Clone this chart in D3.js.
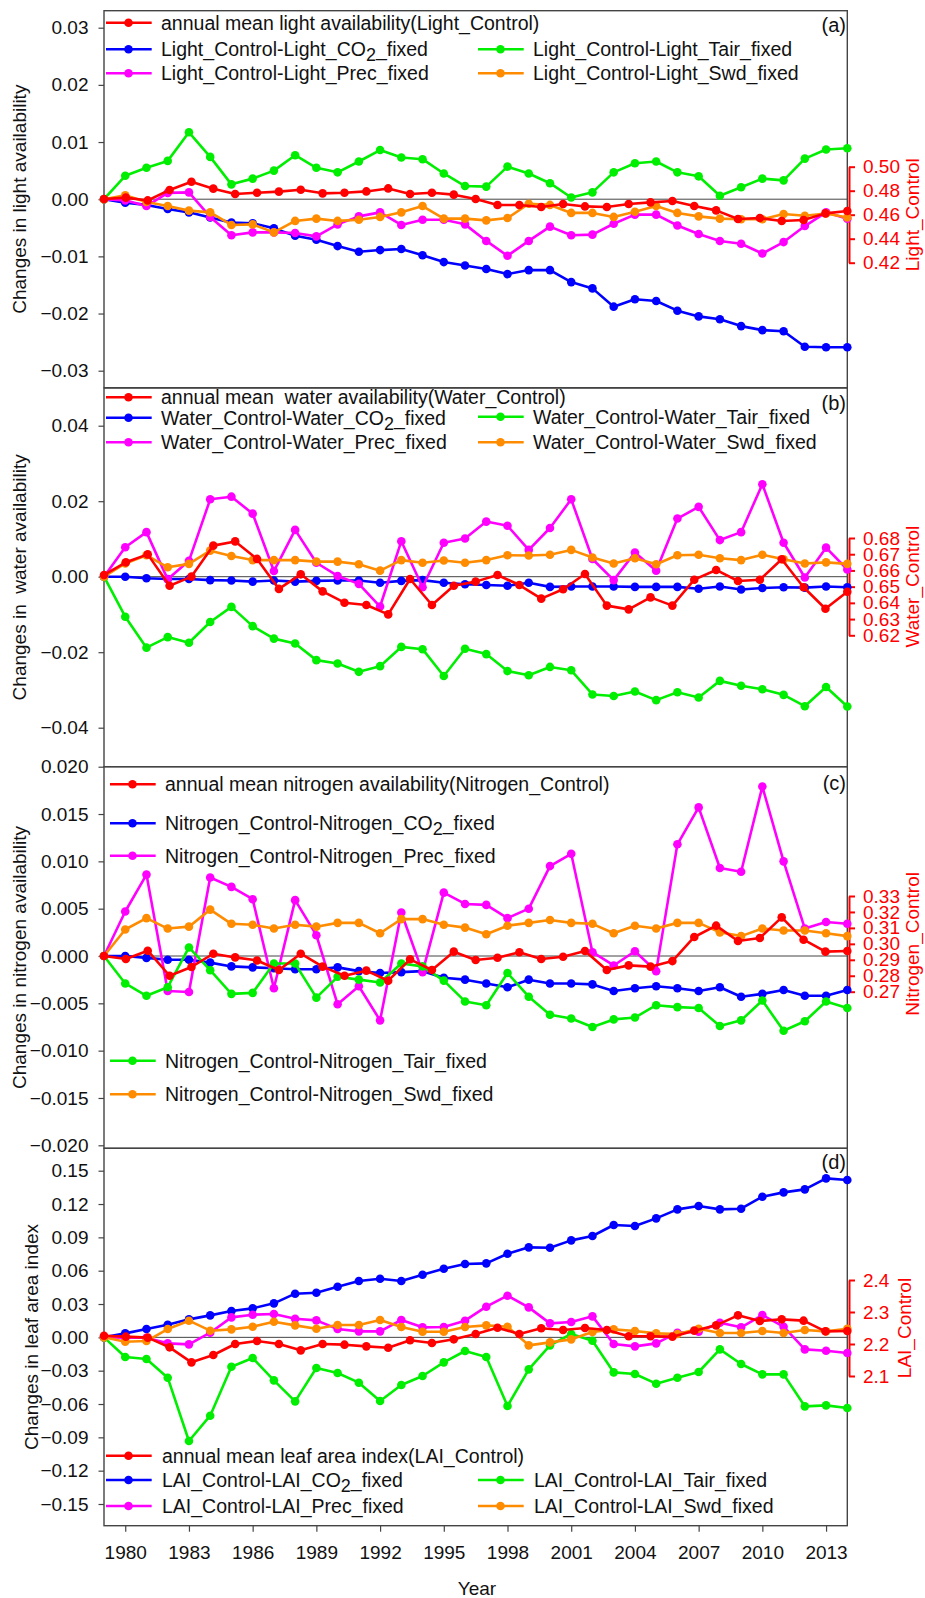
<!DOCTYPE html>
<html>
<head>
<meta charset="utf-8">
<script src="https://cdn.jsdelivr.net/npm/d3@7"></script>
<style>
  body { margin: 0; background: #fff; }
  svg { display: block; font-family: "Liberation Sans", Arial, sans-serif; }
</style>
</head>
<body>
<svg id="chart" width="925" height="1598"></svg>
<script>
// years of the difference series, and of the control series (plotted on its own x axis)
var years = [1979,1980,1981,1982,1983,1984,1985,1986,1987,1988,1989,1990,1991,1992,1993,1994,1995,1996,
             1997,1998,1999,2000,2001,2002,2003,2004,2005,2006,2007,2008,2009,2010,2011,2012,2013,2014];
var controlYears = [1980,1981,1982,1983,1984,1985,1986,1987,1988,1989,1990,1991,1992,1993,1994,1995,1996,
                    1997,1998,1999,2000,2001,2002,2003,2004,2005,2006,2007,2008,2009,2010,2011,2012,2013,2014];
var yearTicks = [1980,1983,1986,1989,1992,1995,1998,2001,2004,2007,2010,2013];

// (a) light
var lightCO2 = [0,-0.0006,-0.0010,-0.0017,-0.0023,-0.0032,-0.0041,-0.0042,-0.0051,-0.0064,-0.0071,-0.0082,-0.0092,-0.0089,-0.0087,-0.0098,-0.0110,-0.0116,
                -0.0122,-0.0131,-0.0124,-0.0124,-0.0145,-0.0156,-0.0188,-0.0175,-0.0178,-0.0195,-0.0205,-0.0210,-0.0222,-0.0229,-0.0231,-0.0258,-0.0259,-0.0259];
var lightTair = [0,0.0041,0.0055,0.0067,0.0117,0.0074,0.0026,0.0036,0.0050,0.0077,0.0055,0.0047,0.0066,0.0086,0.0073,0.0070,0.0045,0.0023,
                 0.0022,0.0057,0.0045,0.0028,0.0003,0.0012,0.0047,0.0063,0.0066,0.0047,0.0040,0.0006,0.0021,0.0036,0.0033,0.0071,0.0087,0.0089];
var lightPrec = [0,-0.0002,-0.0012,0.0011,0.0012,-0.0031,-0.0063,-0.0058,-0.0058,-0.0059,-0.0065,-0.0044,-0.0030,-0.0023,-0.0045,-0.0036,-0.0036,-0.0044,
                 -0.0073,-0.0099,-0.0073,-0.0048,-0.0063,-0.0062,-0.0043,-0.0027,-0.0027,-0.0046,-0.0061,-0.0073,-0.0078,-0.0095,-0.0075,-0.0047,-0.0023,-0.0034];
var lightSwd = [0,0.0007,-0.0005,-0.0012,-0.0020,-0.0023,-0.0045,-0.0044,-0.0058,-0.0038,-0.0034,-0.0038,-0.0036,-0.0031,-0.0023,-0.0012,-0.0034,-0.0034,
                -0.0037,-0.0033,-0.0008,-0.0010,-0.0024,-0.0024,-0.0031,-0.0022,-0.0012,-0.0024,-0.0030,-0.0034,-0.0035,-0.0035,-0.0026,-0.0029,-0.0025,-0.0032];
var lightControl = [0.4731,0.4742,0.4719,0.4806,0.4875,0.4817,0.4772,0.4783,0.4792,0.4808,0.4778,0.4783,0.4794,0.4819,0.4772,0.4783,0.4767,0.4731,
                    0.4681,0.4681,0.4664,0.4689,0.4669,0.4664,0.4689,0.4703,0.4714,0.4672,0.4636,0.4564,0.4572,0.4547,0.4556,0.4611,0.4631];

// (b) water
var waterCO2 = [0,0,-0.0004,-0.0006,-0.0006,-0.0009,-0.0010,-0.0013,-0.0010,-0.0013,-0.0011,-0.0010,-0.0010,-0.0016,-0.0011,-0.0009,-0.0016,-0.0020,
                -0.0022,-0.0024,-0.0016,-0.0027,-0.0026,-0.0026,-0.0026,-0.0027,-0.0027,-0.0027,-0.0032,-0.0026,-0.0034,-0.0030,-0.0028,-0.0029,-0.0026,-0.0028];
var waterTair = [0,-0.0106,-0.0188,-0.0160,-0.0175,-0.0120,-0.0080,-0.0131,-0.0164,-0.0177,-0.0221,-0.0230,-0.0252,-0.0237,-0.0186,-0.0192,-0.0263,-0.0191,
                 -0.0205,-0.0250,-0.0261,-0.0239,-0.0248,-0.0312,-0.0316,-0.0304,-0.0327,-0.0306,-0.0320,-0.0276,-0.0289,-0.0298,-0.0313,-0.0343,-0.0292,-0.0344];
var waterPrec = [0,0.0078,0.0118,-0.0007,0.0042,0.0205,0.0212,0.0167,0.0015,0.0124,0.0037,0.0002,-0.0019,-0.0079,0.0094,-0.0028,0.0090,0.0101,
                 0.0146,0.0135,0.0071,0.0129,0.0205,0.0047,-0.0009,0.0064,0.0016,0.0154,0.0185,0.0097,0.0118,0.0245,0.0090,-0.0002,0.0077,0.0019];
var waterSwd = [0,0.0035,0.0057,0.0025,0.0034,0.0069,0.0055,0.0044,0.0044,0.0044,0.0040,0.0040,0.0033,0.0016,0.0044,0.0037,0.0043,0.0037,
                0.0044,0.0057,0.0056,0.0058,0.0071,0.0051,0.0035,0.0049,0.0033,0.0057,0.0058,0.0049,0.0044,0.0058,0.0046,0.0035,0.0038,0.0034];
var waterControl = [0.6572,0.6650,0.6699,0.6506,0.6562,0.6753,0.6779,0.6671,0.6486,0.6576,0.6471,0.6401,0.6387,0.6329,0.6547,0.6387,0.6506,0.6531,
                    0.6572,0.6510,0.6426,0.6484,0.6578,0.6383,0.6360,0.6434,0.6383,0.6543,0.6603,0.6535,0.6543,0.6669,0.6496,0.6364,0.6469];

// (c) nitrogen
var nitroCO2 = [0,0,-0.0002,-0.0004,-0.0004,-0.0007,-0.0011,-0.0012,-0.0013,-0.0014,-0.0014,-0.0012,-0.0016,-0.0018,-0.0017,-0.0016,-0.0023,-0.0025,
                -0.0029,-0.0033,-0.0025,-0.0029,-0.0029,-0.0030,-0.0037,-0.0034,-0.0032,-0.0034,-0.0037,-0.0033,-0.0043,-0.0040,-0.0036,-0.0042,-0.0042,-0.0036];
var nitroTair = [0,-0.0029,-0.0042,-0.0033,0.0009,-0.0015,-0.0040,-0.0039,-0.0008,-0.0008,-0.0044,-0.0022,-0.0025,-0.0028,-0.0008,-0.0011,-0.0026,-0.0048,
                 -0.0052,-0.0018,-0.0043,-0.0062,-0.0066,-0.0075,-0.0067,-0.0065,-0.0052,-0.0054,-0.0055,-0.0074,-0.0068,-0.0047,-0.0079,-0.0069,-0.0048,-0.0055];
var nitroPrec = [0,0.0047,0.0086,-0.0037,-0.0038,0.0083,0.0073,0.0060,-0.0034,0.0059,0.0022,-0.0051,-0.0032,-0.0068,0.0046,-0.0017,0.0067,0.0055,
                 0.0054,0.0040,0.0050,0.0095,0.0108,0.0004,-0.0010,0.0005,-0.0016,0.0118,0.0157,0.0093,0.0089,0.0179,0.0100,0.0029,0.0036,0.0034];
var nitroSwd = [0,0.0028,0.0040,0.0029,0.0031,0.0049,0.0034,0.0033,0.0029,0.0033,0.0031,0.0035,0.0035,0.0024,0.0039,0.0039,0.0033,0.0030,
                0.0023,0.0032,0.0035,0.0038,0.0035,0.0034,0.0024,0.0032,0.0029,0.0035,0.0035,0.0025,0.0021,0.0029,0.0027,0.0027,0.0024,0.0021];
var nitroControl = [0.2924,0.2905,0.2957,0.2800,0.2855,0.2938,0.2915,0.2896,0.2836,0.2938,0.2857,0.2800,0.2832,0.2769,0.2903,0.2836,0.2951,0.2899,
                    0.2913,0.2947,0.2905,0.2919,0.2955,0.2836,0.2865,0.2857,0.2892,0.3043,0.3114,0.3018,0.3037,0.3166,0.3026,0.2951,0.2955];

// (d) leaf area index
var laiCO2 = [0,0.0036,0.0075,0.0114,0.0162,0.0198,0.0237,0.0261,0.0306,0.0393,0.0402,0.0456,0.0507,0.0528,0.0507,0.0564,0.0618,0.0660,
              0.0666,0.0753,0.0810,0.0807,0.0873,0.0912,0.1011,0.1002,0.1071,0.1152,0.1182,0.1152,0.1158,0.1266,0.1305,0.1332,0.1431,0.1416];
var laiTair = [0,-0.0177,-0.0195,-0.0363,-0.0933,-0.0705,-0.0264,-0.0186,-0.0387,-0.0576,-0.0276,-0.0321,-0.0408,-0.0573,-0.0429,-0.0348,-0.0225,-0.0123,
               -0.0177,-0.0618,-0.0288,-0.0072,0.0030,-0.0030,-0.0315,-0.0330,-0.0417,-0.0363,-0.0312,-0.0108,-0.0240,-0.0333,-0.0333,-0.0621,-0.0612,-0.0636];
var laiPrec = [0,-0.0003,-0.0003,-0.0054,-0.0063,0.0042,0.0180,0.0204,0.0210,0.0168,0.0153,0.0075,0.0054,0.0054,0.0156,0.0090,0.0093,0.0150,
               0.0276,0.0375,0.0270,0.0126,0.0138,0.0189,-0.0060,-0.0081,-0.0054,0.0042,0.0051,0.0132,0.0090,0.0201,0.0096,-0.0108,-0.0120,-0.0141];
var laiSwd = [0,-0.0039,-0.0033,0.0075,0.0150,0.0060,0.0072,0.0096,0.0141,0.0108,0.0078,0.0111,0.0111,0.0156,0.0093,0.0051,0.0051,0.0093,
              0.0108,0.0096,-0.0072,-0.0045,-0.0018,0.0048,0.0072,0.0057,0.0036,0.0030,0.0078,0.0039,0.0039,0.0057,0.0039,0.0066,0.0054,0.0078];
var laiControl = [2.2260,2.2229,2.2198,2.1896,2.1427,2.1656,2.2000,2.2094,2.2000,2.1802,2.2000,2.1979,2.1927,2.1885,2.2115,2.2031,2.2146,2.2313,
                  2.2510,2.2313,2.2490,2.2438,2.2500,2.2438,2.2240,2.2240,2.2229,2.2417,2.2583,2.2896,2.2719,2.2771,2.2729,2.2396,2.2406];

// tick values
var ticksLeftA = [-0.03,-0.02,-0.01,0,0.01,0.02,0.03];
var ticksLeftB = [-0.04,-0.02,0,0.02,0.04];
var ticksLeftC = [-0.020,-0.015,-0.010,-0.005,0,0.005,0.010,0.015,0.020];
var ticksLeftD = [-0.15,-0.12,-0.09,-0.06,-0.03,0,0.03,0.06,0.09,0.12,0.15];
var ticksRightA = [0.42,0.44,0.46,0.48,0.50];
var ticksRightB = [0.62,0.63,0.64,0.65,0.66,0.67,0.68];
var ticksRightC = [0.27,0.28,0.29,0.30,0.31,0.32,0.33];
var ticksRightD = [2.1,2.2,2.3,2.4];

var colors = { red: '#ff0000', blue: '#0000ff', magenta: '#ff00ff', green: '#00ee00', orange: '#ff8c00' };

var svg = d3.select('#chart');
var plotLeft = 104, plotRight = 847.3;

var x = d3.scaleLinear().domain([1979, 2014]).range([plotLeft, plotRight]);
// control series sits on its own x axis spread over the same width
var xCtl = d3.scaleLinear().domain([1980, 2014]).range([plotLeft, plotRight]);

var panels = [
  { tag: '(a)', top: 10.7, bottom: 387.7, yDom: [-0.03, 0.03], yRng: [370.7, 27.7], yTicks: ticksLeftA, yFmt: '.2f',
    rDom: [0.42, 0.50], rRng: [262.7, 166.7], rTicks: ticksRightA, rFmt: '.2f', rTitle: 'Light_Control', rTitleX: 919,
    title: 'Changes in light availability', titleX: 26, tagY: 25,
    series: [['blue', lightCO2], ['magenta', lightPrec], ['green', lightTair], ['orange', lightSwd]], control: lightControl,
    legend: [
      { c: 'red', t: 'annual mean light availability(Light_Control)', x: 106, y: 22.7, off: 55 },
      { c: 'blue', t: 'Light_Control-Light_CO2_fixed', x: 106, y: 49.3, off: 55 },
      { c: 'magenta', t: 'Light_Control-Light_Prec_fixed', x: 106, y: 73.3, off: 55 },
      { c: 'green', t: 'Light_Control-Light_Tair_fixed', x: 478, y: 49.3, off: 55 },
      { c: 'orange', t: 'Light_Control-Light_Swd_fixed', x: 478, y: 73.3, off: 55 }
    ] },
  { tag: '(b)', top: 388, bottom: 766.7, yDom: [-0.04, 0.04], yRng: [727.7, 425.7], yTicks: ticksLeftB, yFmt: '.2f',
    rDom: [0.62, 0.68], rRng: [635.3, 538], rTicks: ticksRightB, rFmt: '.2f', rTitle: 'Water_Control', rTitleX: 919,
    title: 'Changes in  water availability', titleX: 26, tagY: 403,
    series: [['blue', waterCO2], ['magenta', waterPrec], ['green', waterTair], ['orange', waterSwd]], control: waterControl,
    legend: [
      { c: 'red', t: 'annual mean  water availability(Water_Control)', x: 106, y: 397.3, off: 55 },
      { c: 'blue', t: 'Water_Control-Water_CO2_fixed', x: 106, y: 417.7, off: 55 },
      { c: 'magenta', t: 'Water_Control-Water_Prec_fixed', x: 106, y: 442.3, off: 55 },
      { c: 'green', t: 'Water_Control-Water_Tair_fixed', x: 478, y: 416.7, off: 55 },
      { c: 'orange', t: 'Water_Control-Water_Swd_fixed', x: 478, y: 442.3, off: 55 }
    ] },
  { tag: '(c)', top: 766.7, bottom: 1148.3, yDom: [-0.02, 0.02], yRng: [1145.3, 766.7], yTicks: ticksLeftC, yFmt: '.3f',
    rDom: [0.27, 0.33], rRng: [991.7, 896], rTicks: ticksRightC, rFmt: '.2f', rTitle: 'Nitrogen_Control', rTitleX: 919,
    title: 'Changes in nitrogen availability', titleX: 26, tagY: 783.3,
    series: [['blue', nitroCO2], ['magenta', nitroPrec], ['green', nitroTair], ['orange', nitroSwd]], control: nitroControl,
    legend: [
      { c: 'red', t: 'annual mean nitrogen availability(Nitrogen_Control)', x: 110, y: 784.3, off: 55 },
      { c: 'blue', t: 'Nitrogen_Control-Nitrogen_CO2_fixed', x: 110, y: 823.3, off: 55 },
      { c: 'magenta', t: 'Nitrogen_Control-Nitrogen_Prec_fixed', x: 110, y: 855.7, off: 55 },
      { c: 'green', t: 'Nitrogen_Control-Nitrogen_Tair_fixed', x: 110, y: 1060.7, off: 55 },
      { c: 'orange', t: 'Nitrogen_Control-Nitrogen_Swd_fixed', x: 110, y: 1094.3, off: 55 }
    ] },
  { tag: '(d)', top: 1148.3, bottom: 1525.7, yDom: [-0.15, 0.15], yRng: [1504, 1170.7], yTicks: ticksLeftD, yFmt: '.2f',
    rDom: [2.1, 2.4], rRng: [1376, 1280], rTicks: ticksRightD, rFmt: '.1f', rTitle: 'LAI_Control', rTitleX: 911,
    title: 'Changes in leaf area index', titleX: 38, tagY: 1161.7,
    series: [['blue', laiCO2], ['magenta', laiPrec], ['green', laiTair], ['orange', laiSwd]], control: laiControl,
    legend: [
      { c: 'red', t: 'annual mean leaf area index(LAI_Control)', x: 106, y: 1455.7, off: 56 },
      { c: 'blue', t: 'LAI_Control-LAI_CO2_fixed', x: 106, y: 1480, off: 56 },
      { c: 'magenta', t: 'LAI_Control-LAI_Prec_fixed', x: 106, y: 1506, off: 56 },
      { c: 'green', t: 'LAI_Control-LAI_Tair_fixed', x: 478, y: 1480, off: 56 },
      { c: 'orange', t: 'LAI_Control-LAI_Swd_fixed', x: 478, y: 1506, off: 56 }
    ] }
];

var fontSize = 19;
var legendSize = 19.5;

// writes a label, putting the 2 of CO2 as a subscript
function writeLabel(sel, label) {
  var parts = label.split('CO2');
  sel.append('tspan').text(parts[0]);
  if (parts.length > 1) {
    sel.append('tspan').text('CO');
    sel.append('tspan').attr('dy', 5).attr('font-size', 18).text('2');
    sel.append('tspan').attr('dy', -5).text(parts[1]);
  }
}

panels.forEach(function(p) {
  var y = d3.scaleLinear().domain(p.yDom).range(p.yRng);
  var r = d3.scaleLinear().domain(p.rDom).range(p.rRng);
  var g = svg.append('g');

  // frame
  g.append('rect')
    .attr('x', plotLeft).attr('y', p.top)
    .attr('width', plotRight - plotLeft).attr('height', p.bottom - p.top)
    .attr('fill', 'none').attr('stroke', '#444').attr('stroke-width', 1.4);

  // zero line
  g.append('line')
    .attr('x1', plotLeft).attr('x2', plotRight)
    .attr('y1', y(0)).attr('y2', y(0))
    .attr('stroke', '#444').attr('stroke-width', 1);

  // left axis
  var la = g.append('g').attr('transform', 'translate(' + plotLeft + ',0)')
    .call(d3.axisLeft(y).tickValues(p.yTicks).tickFormat(d3.format(p.yFmt)).tickSize(5.5).tickPadding(10).tickSizeOuter(0));
  la.select('.domain').remove();
  la.selectAll('line').attr('stroke', '#444').attr('stroke-width', 1.2);
  la.selectAll('text').attr('font-size', fontSize).attr('font-family', null).attr('fill', '#111');

  g.append('text')
    .attr('transform', 'translate(' + p.titleX + ',' + ((p.top + p.bottom) / 2) + ') rotate(-90)')
    .attr('text-anchor', 'middle').attr('font-size', fontSize).attr('fill', '#111')
    .style('white-space', 'pre')
    .text(p.title);

  // right axis (control)
  var ra = g.append('g').attr('transform', 'translate(849,0)')
    .call(d3.axisRight(r).tickValues(p.rTicks).tickFormat(d3.format(p.rFmt)).tickSize(6).tickPadding(8).tickSizeOuter(0));
  ra.select('.domain').attr('stroke', colors.red).attr('stroke-width', 2);
  ra.selectAll('line').attr('stroke', colors.red).attr('stroke-width', 2);
  ra.selectAll('text').attr('font-size', fontSize).attr('font-family', null).attr('fill', colors.red);

  g.append('text')
    .attr('transform', 'translate(' + p.rTitleX + ',' + ((p.rRng[0] + p.rRng[1]) / 2) + ') rotate(-90)')
    .attr('text-anchor', 'middle').attr('font-size', fontSize).attr('fill', colors.red)
    .text(p.rTitle);

  // difference series
  var line = d3.line().x(function(d, i) { return x(years[i]); }).y(function(d) { return y(d); });
  p.series.forEach(function(s) {
    g.append('path').datum(s[1])
      .attr('fill', 'none').attr('stroke', colors[s[0]]).attr('stroke-width', 2.6)
      .attr('stroke-linejoin', 'round').attr('d', line);
    g.selectAll(null).data(s[1]).enter().append('circle')
      .attr('cx', function(d, i) { return x(years[i]); })
      .attr('cy', function(d) { return y(d); })
      .attr('r', 4.3).attr('fill', colors[s[0]]);
  });

  // control series on the right axis
  var ctlLine = d3.line().x(function(d, i) { return xCtl(controlYears[i]); }).y(function(d) { return r(d); });
  g.append('path').datum(p.control)
    .attr('fill', 'none').attr('stroke', colors.red).attr('stroke-width', 2.6)
    .attr('stroke-linejoin', 'round').attr('d', ctlLine);
  g.selectAll(null).data(p.control).enter().append('circle')
    .attr('cx', function(d, i) { return xCtl(controlYears[i]); })
    .attr('cy', function(d) { return r(d); })
    .attr('r', 4.3).attr('fill', colors.red);

  // legend
  p.legend.forEach(function(l) {
    g.append('line')
      .attr('x1', l.x).attr('x2', l.x + 45.7).attr('y1', l.y).attr('y2', l.y)
      .attr('stroke', colors[l.c]).attr('stroke-width', 2.6);
    g.append('circle').attr('cx', l.x + 22.5).attr('cy', l.y).attr('r', 4.3).attr('fill', colors[l.c]);
    var t = g.append('text')
      .attr('x', l.x + l.off).attr('y', l.y).attr('dy', '0.35em')
      .attr('font-size', legendSize).attr('fill', '#111')
      .style('white-space', 'pre');
    writeLabel(t, l.t);
  });

  // panel tag
  g.append('text')
    .attr('x', 846).attr('y', p.tagY).attr('dy', '0.35em')
    .attr('text-anchor', 'end').attr('font-size', 20).attr('fill', '#111')
    .text(p.tag);
});

// bottom x axis
var bottom = panels[3].bottom;
var xa = svg.append('g').attr('transform', 'translate(0,' + bottom + ')')
  .call(d3.axisBottom(x).tickValues(yearTicks).tickFormat(d3.format('d')).tickSize(6).tickPadding(13.8).tickSizeOuter(0));
xa.select('.domain').remove();
xa.selectAll('line').attr('stroke', '#444').attr('stroke-width', 1.2);
xa.selectAll('text').attr('font-size', fontSize).attr('font-family', null).attr('fill', '#111');

svg.append('text')
  .attr('x', 477).attr('y', 1595)
  .attr('text-anchor', 'middle').attr('font-size', fontSize).attr('fill', '#111')
  .text('Year');
</script>
</body>
</html>
